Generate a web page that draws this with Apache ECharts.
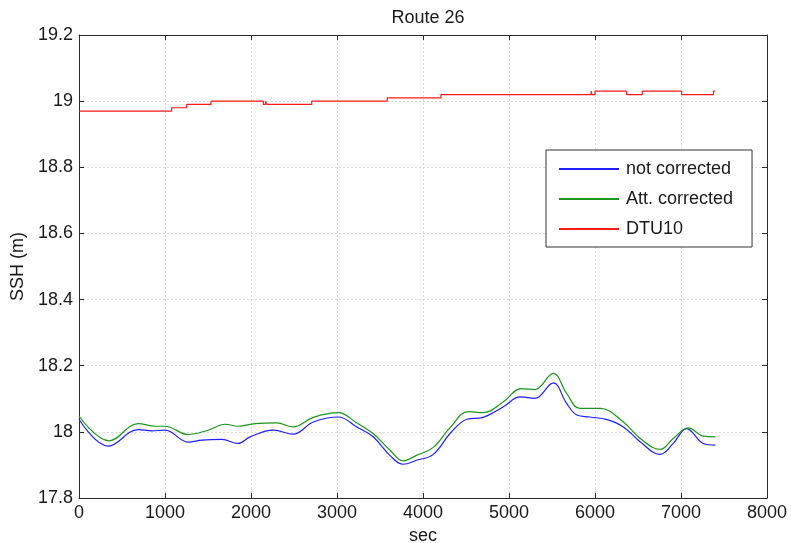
<!DOCTYPE html>
<html>
<head>
<meta charset="utf-8">
<script src="https://cdn.jsdelivr.net/npm/echarts@6/dist/echarts.min.js"></script>
<style>
  html, body { margin: 0; padding: 0; background: #fff; overflow: hidden; }
  #chart { width: 791px; height: 543px; }
</style>
</head>
<body>
<div id="chart"></div>
<script>
// Sea surface height along Route 26
const notCorrTime = [0, 340, 690, 845, 1000, 1270, 1430, 1660, 1850, 1990, 2260, 2490, 2725, 3015, 3230, 3420, 3615, 3770, 3925, 4120, 4315, 4510, 4700, 4935, 5130, 5300, 5515, 5670, 5790, 5940, 6140, 6330, 6525, 6755, 6910, 7065, 7260, 7400];
const notCorrSSH  = [18.038, 17.957, 18.007, 18.003, 18.005, 17.969, 17.975, 17.977, 17.965, 17.985, 18.005, 17.993, 18.030, 18.045, 18.015, 17.985, 17.929, 17.902, 17.914, 17.932, 17.995, 18.038, 18.044, 18.076, 18.106, 18.101, 18.148, 18.086, 18.051, 18.045, 18.037, 18.015, 17.970, 17.932, 17.965, 18.010, 17.965, 17.960];

const attCorrTime = [0, 350, 690, 885, 1000, 1270, 1500, 1700, 1850, 2050, 2300, 2490, 2725, 3015, 3230, 3420, 3615, 3770, 3925, 4120, 4315, 4525, 4700, 4935, 5145, 5300, 5515, 5670, 5825, 6060, 6330, 6525, 6755, 6910, 7085, 7260, 7400];
const attCorrSSH  = [18.048, 17.973, 18.025, 18.017, 18.017, 17.992, 18.005, 18.023, 18.017, 18.025, 18.027, 18.015, 18.044, 18.058, 18.027, 17.995, 17.945, 17.912, 17.929, 17.953, 18.013, 18.061, 18.058, 18.091, 18.131, 18.128, 18.177, 18.116, 18.071, 18.071, 18.030, 17.980, 17.947, 17.980, 18.012, 17.987, 17.985];

// DTU10 model heights: each value holds until the next time
const dtuTime = [0, 1078, 1252, 1535, 2143, 2170, 2185, 2706, 3585, 4209, 5955, 5965, 6000, 6368, 6550, 7008, 7378, 7395];
const dtuSSH  = [18.97, 18.98, 18.99, 19.00, 18.99, 19.00, 18.99, 19.00, 19.01, 19.02, 19.03, 19.02, 19.03, 19.02, 19.03, 19.02, 19.03, 19.03];

const xTicks = [0, 1000, 2000, 3000, 4000, 5000, 6000, 7000, 8000];
const yTicks = [17.8, 18, 18.2, 18.4, 18.6, 18.8, 19, 19.2];

const pairs = (xs, ys) => xs.map((x, i) => [x, ys[i]]);

const FONT = 'Liberation Sans, Arial, sans-serif';
const FS = 18;
const AXIS_COLOR = '#2b2b2b';
const TEXT_COLOR = '#1a1a1a';
const gridLine = { show: true, lineStyle: { color: '#dcdcdc', type: [2, 2], width: 1 } };

const chart = echarts.init(document.getElementById('chart'), null, { renderer: 'canvas' });

const xBase = {
  type: 'value', min: xTicks[0], max: xTicks[xTicks.length - 1], interval: 1000,
  axisLine: { show: true, onZero: false, lineStyle: { color: AXIS_COLOR, width: 1 } },
  axisTick: { show: true, inside: true, length: 5, lineStyle: { color: AXIS_COLOR } },
};
const yBase = {
  type: 'value', min: yTicks[0], max: yTicks[yTicks.length - 1], interval: 0.2,
  axisLine: { show: true, onZero: false, lineStyle: { color: AXIS_COLOR, width: 1 } },
  axisTick: { show: true, inside: true, length: 5, lineStyle: { color: AXIS_COLOR } },
};

chart.setOption({
  animation: false,
  backgroundColor: '#ffffff',
  title: {
    text: 'Route 26', left: 423, top: 4, textAlign: 'center',
    textStyle: { fontFamily: FONT, fontSize: FS, fontWeight: 'normal', color: TEXT_COLOR }
  },
  grid: { left: 79, right: 24, top: 35, bottom: 45, containLabel: false, outerBoundsMode: 'none' },
  legend: {
    orient: 'vertical', left: 546, top: 150,
    padding: [10, 19, 9, 12], itemGap: 12, itemWidth: 60, itemHeight: 14,
    backgroundColor: '#ffffff', borderColor: '#333', borderWidth: 1, borderRadius: 0,
    itemStyle: { opacity: 0 },
    textStyle: { fontFamily: FONT, fontSize: FS, color: TEXT_COLOR, padding: [0, 0, 0, 2] },
    data: ['not corrected', 'Att. corrected', 'DTU10']
  },
  xAxis: [
    Object.assign({}, xBase, {
      position: 'bottom', name: 'sec', nameLocation: 'middle', nameGap: 26,
      nameTextStyle: { fontFamily: FONT, fontSize: FS, color: TEXT_COLOR },
      axisLabel: { fontFamily: FONT, fontSize: FS, color: TEXT_COLOR, margin: 6, formatter: v => String(v) },
      splitLine: gridLine
    }),
    Object.assign({}, xBase, { position: 'top', axisLabel: { show: false }, splitLine: { show: false } })
  ],
  yAxis: [
    Object.assign({}, yBase, {
      position: 'left', name: 'SSH (m)', nameLocation: 'middle', nameGap: 52,
      nameTextStyle: { fontFamily: FONT, fontSize: FS, color: TEXT_COLOR },
      axisLabel: {
        fontFamily: FONT, fontSize: FS, color: TEXT_COLOR, margin: 6,
        formatter: v => String(+v.toFixed(1))
      },
      splitLine: gridLine
    }),
    Object.assign({}, yBase, { position: 'right', axisLabel: { show: false }, splitLine: { show: false } })
  ],
  series: [
    {
      name: 'not corrected', type: 'line', xAxisIndex: 0, yAxisIndex: 0,
      data: pairs(notCorrTime, notCorrSSH), smooth: 0.4, symbol: 'none',
      lineStyle: { color: '#1f1fff', width: 1.2 }, itemStyle: { color: '#1f1fff' }
    },
    {
      name: 'Att. corrected', type: 'line', xAxisIndex: 0, yAxisIndex: 0,
      data: pairs(attCorrTime, attCorrSSH), smooth: 0.4, symbol: 'none',
      lineStyle: { color: '#1e961e', width: 1.2 }, itemStyle: { color: '#1e961e' }
    },
    {
      name: 'DTU10', type: 'line', xAxisIndex: 0, yAxisIndex: 0,
      data: pairs(dtuTime, dtuSSH), step: 'end', symbol: 'none',
      lineStyle: { color: '#ff1a1a', width: 1.2 }, itemStyle: { color: '#ff1a1a' }
    }
  ]
});
</script>
</body>
</html>
